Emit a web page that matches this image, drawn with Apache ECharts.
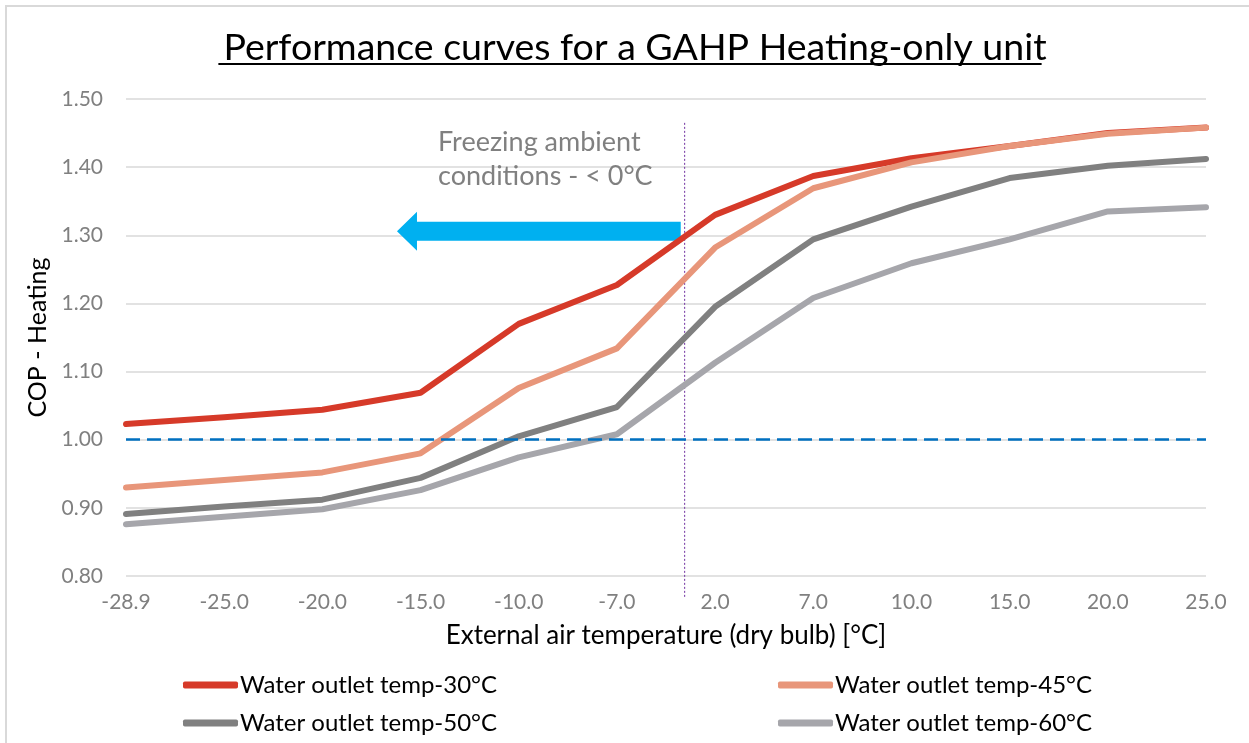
<!DOCTYPE html>
<html>
<head>
<meta charset="UTF-8">
<title>GAHP performance curves</title>
<script src="https://cdn.jsdelivr.net/npm/echarts@6/dist/echarts.min.js"></script>
<style>
    html, body {
        margin: 0;
        padding: 0;
        background: #fff;
    }
    #frame {
        position: absolute;
        left: 5px;
        top: 5px;
        width: 1244px;
        height: 738px;
        border-top: 2px solid #d9d9d9;
        border-left: 2px solid #d9d9d9;
    }
    #main {
        position: absolute;
        left: 0;
        top: 0;
        width: 1249px;
        height: 743px;
    }
</style>
</head>
<body>
<div id="frame"></div>
<div id="main"></div>
<script>
    // x categories (external air temperature, °C)
    var temps = ['-28.9', '-25.0', '-20.0', '-15.0', '-10.0', '-7.0', '2.0', '7.0', '10.0', '15.0', '20.0', '25.0'];
    // COP per water outlet temperature
    var cop30 = [1.023, 1.033, 1.044, 1.069, 1.170, 1.227, 1.330, 1.387, 1.413, 1.431, 1.450, 1.458];
    var cop45 = [0.930, 0.941, 0.952, 0.980, 1.076, 1.134, 1.282, 1.369, 1.407, 1.431, 1.449, 1.458];
    var cop50 = [0.891, 0.902, 0.912, 0.944, 1.005, 1.048, 1.195, 1.294, 1.342, 1.384, 1.402, 1.412];
    var cop60 = [0.876, 0.887, 0.898, 0.926, 0.974, 1.008, 1.113, 1.208, 1.259, 1.294, 1.335, 1.341];
    var names = ['Water outlet temp-30°C', 'Water outlet temp-45°C', 'Water outlet temp-50°C', 'Water outlet temp-60°C'];
    var colors = ['#D63A29', '#E8967A', '#808080', '#A6A6AB'];
    // y axis ticks
    var yMin = 0.8, yMax = 1.5, yStep = 0.1;
    // COP = 1 reference line
    var copRef = 1.0;
    // freezing boundary (x in category index units) and arrow
    var freezeX = 5.69;
    var freezeSpan = [1.465, 0.768];
    var arrowSpan = [5.65, 2.76];
    var arrowY = 1.306;

    var titleText = 'Performance curves for a GAHP Heating-only unit';
    var font = 'Lato, "Open Sans", sans-serif';

    function pairs(arr) {
        return arr.map(function (v, i) { return [i, v]; });
    }

    // underline width for the title
    var ctx = document.createElement('canvas').getContext('2d');
    ctx.font = '37.5px Lato';
    var titleW = ctx.measureText(titleText).width;
    var titleCx = 630;

    var myChart = echarts.init(document.getElementById('main'));

    var series = [{
        type: 'custom',
        z: 1,
        silent: true,
        data: [[freezeX, freezeSpan[0], freezeSpan[1]]],
        renderItem: function (params, api) {
            var p1 = api.coord([api.value(0), api.value(1)]);
            var p2 = api.coord([api.value(0), api.value(2)]);
            return {
                type: 'line',
                shape: {x1: p1[0], y1: p1[1], x2: p2[0], y2: p2[1]},
                style: {stroke: '#7030A0', lineWidth: 1, lineDash: [2, 2]}
            };
        }
    }, {
        type: 'custom',
        z: 1,
        silent: true,
        data: [[arrowSpan[0], arrowSpan[1], arrowY]],
        renderItem: function (params, api) {
            var tail = api.coord([api.value(0), api.value(2)]);
            var tip = api.coord([api.value(1), api.value(2)]);
            var y = tail[1], hl = 20, sh = 9.5, hh = 19.5;
            return {
                type: 'polygon',
                shape: {
                    points: [
                        [tail[0], y - sh], [tip[0] + hl, y - sh], [tip[0] + hl, y - hh],
                        [tip[0], y], [tip[0] + hl, y + hh], [tip[0] + hl, y + sh], [tail[0], y + sh]
                    ]
                },
                style: {fill: '#00B0F0'}
            };
        }
    }];

    [cop30, cop45, cop50, cop60].forEach(function (arr, k) {
        var s = {
            name: names[k],
            type: 'line',
            z: 3,
            data: pairs(arr),
            showSymbol: false,
            symbol: 'none',
            lineStyle: {width: 6, color: colors[k], cap: 'round', join: 'round'},
            itemStyle: {color: colors[k]}
        };
        if (k === 0) {
            s.markLine = {
                silent: true,
                symbol: 'none',
                label: {show: false},
                lineStyle: {color: '#0070C0', width: 2.5, type: [14, 7]},
                data: [{yAxis: copRef}]
            };
        }
        series.push(s);
    });

    var legendBase = {
        orient: 'vertical',
        top: 668,
        itemWidth: 55,
        itemHeight: 7,
        itemGap: 14,
        icon: 'roundRect',
        selectedMode: false,
        textStyle: {fontFamily: font, fontSize: 24, color: '#000', padding: [0, 0, 0, -3]}
    };

    var option = {
        animation: false,
        title: [{
            text: titleText,
            left: titleCx,
            textAlign: 'center',
            top: 24,
            textStyle: {fontFamily: font, fontSize: 37.5, fontWeight: 'normal', color: '#000'}
        }, {
            text: 'Freezing ambient\nconditions - < 0°C',
            left: 433,
            top: 120,
            textStyle: {fontFamily: font, fontSize: 27, fontWeight: 'normal', color: '#808080', lineHeight: 34}
        }],
        graphic: [{
            type: 'line',
            shape: {x1: titleCx - titleW / 2, y1: 64, x2: titleCx + titleW / 2, y2: 64},
            style: {stroke: '#000', lineWidth: 2}
        }],
        legend: [
            echarts.util.merge({left: 178, data: [names[0], names[2]]}, legendBase),
            echarts.util.merge({left: 773, data: [names[1], names[3]]}, legendBase)
        ],
        grid: {left: 126, right: 43, top: 99, bottom: 167},
        xAxis: {
            type: 'value',
            min: 0,
            max: temps.length - 1,
            interval: 1,
            name: 'External air temperature (dry bulb) [°C]',
            nameLocation: 'middle',
            nameGap: 47,
            nameTextStyle: {fontFamily: font, fontSize: 26, color: '#000'},
            axisLine: {show: false},
            axisTick: {show: false},
            splitLine: {show: false},
            axisLabel: {
                fontFamily: font,
                fontSize: 21,
                color: '#808080',
                margin: 16,
                formatter: function (v) { return temps[v]; }
            }
        },
        yAxis: {
            type: 'value',
            min: yMin,
            max: yMax,
            interval: yStep,
            name: 'COP - Heating',
            nameLocation: 'middle',
            nameGap: 76,
            nameTextStyle: {fontFamily: font, fontSize: 25, color: '#000'},
            axisLine: {show: false},
            axisTick: {show: false},
            splitLine: {lineStyle: {color: '#d9d9d9', width: 1.5}},
            axisLabel: {
                fontFamily: font,
                fontSize: 21,
                color: '#808080',
                margin: 23,
                formatter: function (v) { return v.toFixed(2); }
            }
        },
        series: series
    };

    myChart.setOption(option);
</script>
</body>
</html>
